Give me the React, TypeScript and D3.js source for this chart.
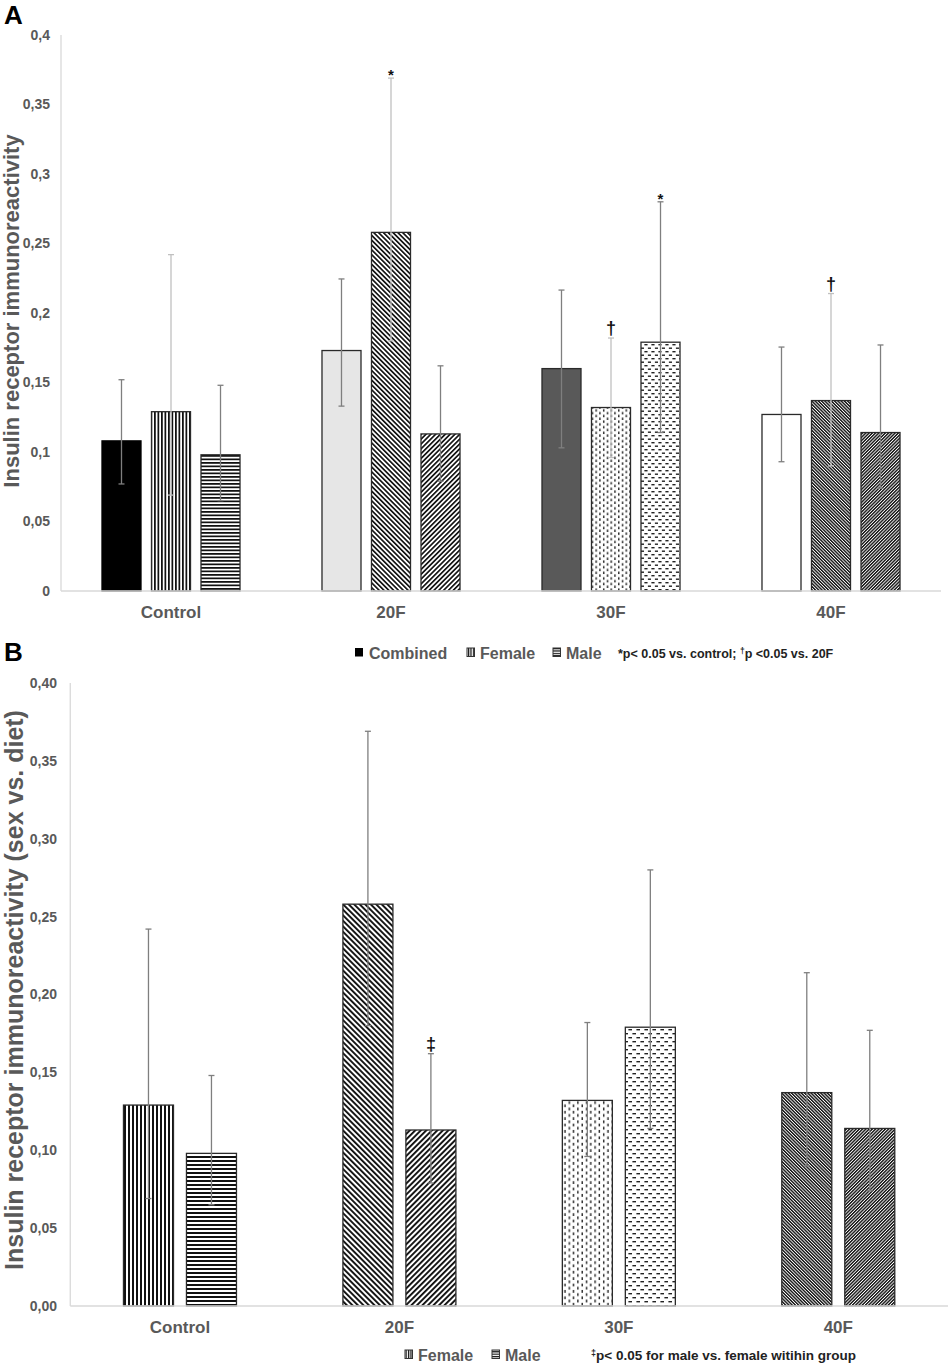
import * as d3 from "d3";

// ---- data ----
const categories = ["Control", "20F", "30F", "40F"];

const combinedMean = [0.108, 0.173, 0.16, 0.127];
const combinedUpper = [0.152, 0.2245, 0.2165, 0.1755];
const combinedLower = [0.077, 0.133, 0.103, 0.093];

const femaleMean = [0.129, 0.258, 0.132, 0.137];
const femaleUpper = [0.242, 0.369, 0.182, 0.214];
const femaleLower = [0.069, 0.18, 0.096, 0.09];

const maleMean = [0.098, 0.113, 0.179, 0.114];
const maleUpper = [0.148, 0.162, 0.28, 0.177];
const maleLower = [0.065, 0.079, 0.114, 0.074];

const yTicks = [0, 0.05, 0.1, 0.15, 0.2, 0.25, 0.3, 0.35, 0.4];
const tickLabelsA = ["0", "0,05", "0,1", "0,15", "0,2", "0,25", "0,3", "0,35", "0,4"];
const tickLabelsB = ["0,00", "0,05", "0,10", "0,15", "0,20", "0,25", "0,30", "0,35", "0,40"];

const marksA = [
  { cat: "20F", series: "Female", sym: "*" },
  { cat: "30F", series: "Female", sym: "†" },
  { cat: "30F", series: "Male", sym: "*" },
  { cat: "40F", series: "Female", sym: "†" },
];
const marksB = [{ cat: "20F", series: "Male", sym: "‡" }];

// ---- styles ----
const combinedFill = ["#000000", "#e6e6e6", "#595959", "#ffffff"];
const femalePattern = ["vert", "diagL", "dotV", "denseL"];
const malePattern = ["horiz", "diagR", "dashH", "denseR"];

const FONT = "'Liberation Sans', Arial, Helvetica, sans-serif";
const TXT = "#595959";

type Stat = { mean: number[]; upper: number[]; lower: number[] };
const stats: Record<string, Stat> = {
  Combined: { mean: combinedMean, upper: combinedUpper, lower: combinedLower },
  Female: { mean: femaleMean, upper: femaleUpper, lower: femaleLower },
  Male: { mean: maleMean, upper: maleUpper, lower: maleLower },
};

const fillFor = (series: string, i: number, sfx: string) => {
  if (series === "Combined") return combinedFill[i];
  const p = series === "Female" ? femalePattern[i] : malePattern[i];
  return `url(#${p}${sfx})`;
};

const errColor = (series: string, panel: string) =>
  panel === "A" && series === "Female" ? "#c0c0c0" : "#7f7f7f";

function Patterns({ sfx, k }: { sfx: string; k: number }) {
  const ink = "#111";
  return (
    <>
      <pattern id={`vert${sfx}`} patternUnits="userSpaceOnUse" width={4 * k} height={10}>
        <rect width={4 * k} height={10} fill="#fff" />
        <rect width={2 * k} height={10} fill={ink} />
      </pattern>
      <pattern id={`horiz${sfx}`} patternUnits="userSpaceOnUse" width={10} height={4 * k}>
        <rect width={10} height={4 * k} fill="#fff" />
        <rect width={10} height={2 * k} fill={ink} />
      </pattern>
      <pattern id={`diagL${sfx}`} patternUnits="userSpaceOnUse" width={3.9 * k} height={10} patternTransform="rotate(-45)">
        <rect width={3.9 * k} height={10} fill="#fff" />
        <rect width={1.9 * k} height={10} fill={ink} />
      </pattern>
      <pattern id={`diagR${sfx}`} patternUnits="userSpaceOnUse" width={3.9 * k} height={10} patternTransform="rotate(45)">
        <rect width={3.9 * k} height={10} fill="#fff" />
        <rect width={1.9 * k} height={10} fill={ink} />
      </pattern>
      <pattern id={`denseL${sfx}`} patternUnits="userSpaceOnUse" width={2.3} height={10} patternTransform="rotate(-45)">
        <rect width={2.3} height={10} fill="#fff" />
        <rect width={1.4} height={10} fill="#111" />
      </pattern>
      <pattern id={`denseR${sfx}`} patternUnits="userSpaceOnUse" width={2.3} height={10} patternTransform="rotate(45)">
        <rect width={2.3} height={10} fill="#fff" />
        <rect width={1.4} height={10} fill="#111" />
      </pattern>
      <pattern id={`dotV${sfx}`} patternUnits="userSpaceOnUse" width={8.6 * k} height={6.4 * k}>
        <rect width={8.6 * k} height={6.4 * k} fill="#fff" />
        <rect x={1} y={0.4} width={1.4} height={2.8 * k} fill="#222" />
        <rect x={1 + 4.3 * k} y={3.6 * k} width={1.4} height={2.8 * k} fill="#222" />
      </pattern>
      <pattern id={`dashH${sfx}`} patternUnits="userSpaceOnUse" width={8 * k} height={8 * k}>
        <rect width={8 * k} height={8 * k} fill="#fff" />
        <rect x={0.4} y={1} width={3.6 * k} height={1.4} fill="#222" />
        <rect x={0.4 + 4 * k} y={1 + 4 * k} width={3.6 * k} height={1.4} fill="#222" />
      </pattern>
    </>
  );
}

type PanelProps = {
  panel: string;
  series: string[];
  top: number;
  baseline: number;
  x0: number;
  x1: number;
  pi: number;
  po: number;
  tickLabels: string[];
  tickRight: number;
  title: string;
  titleSize: number;
  titleX: number;
  titleY: number;
  catY: number;
  marks: { cat: string; series: string; sym: string }[];
};

function Panel(p: PanelProps) {
  const y = d3.scaleLinear().domain([0, 0.4]).range([p.baseline, p.top]);
  const x = d3.scaleBand().domain(categories).range([p.x0, p.x1]).padding(0);
  const xi = d3
    .scaleBand()
    .domain(p.series)
    .range([0, x.bandwidth()])
    .paddingInner(p.pi)
    .paddingOuter(p.po);
  const bw = xi.bandwidth();
  const cap = 3;

  return (
    <g>
      {/* axes */}
      <line x1={p.x0} x2={p.x0} y1={p.top} y2={p.baseline} stroke="#d9d9d9" strokeWidth={1.3} />
      {yTicks.map((t, i) => (
        <text
          key={t}
          x={p.tickRight}
          y={y(t)}
          dy="0.35em"
          textAnchor="end"
          fontFamily={FONT}
          fontWeight="bold"
          fontSize={14}
          fill={TXT}
        >
          {p.tickLabels[i]}
        </text>
      ))}
      <text
        transform={`translate(${p.titleX},${p.titleY}) rotate(-90)`}
        textAnchor="middle"
        fontFamily={FONT}
        fontWeight="bold"
        fontSize={p.titleSize}
        fill={TXT}
      >
        {p.title}
      </text>

      {/* bars */}
      {categories.map((c, i) =>
        p.series.map((s) => {
          const bx = (x(c) ?? 0) + (xi(s) ?? 0);
          const v = stats[s].mean[i];
          return (
            <rect
              key={c + s}
              x={bx}
              y={y(v)}
              width={bw}
              height={p.baseline - y(v)}
              fill={fillFor(s, i, p.panel)}
              stroke={s === "Combined" && i === 0 ? "#000" : "#2a2a2a"}
              strokeWidth={1.3}
            />
          );
        })
      )}

      {/* error bars */}
      {categories.map((c, i) =>
        p.series.map((s) => {
          const cx = (x(c) ?? 0) + (xi(s) ?? 0) + bw / 2;
          const yu = y(stats[s].upper[i]);
          const yl = y(stats[s].lower[i]);
          const col = errColor(s, p.panel);
          return (
            <g key={"e" + c + s} stroke={col} strokeWidth={1.3}>
              <line x1={cx} x2={cx} y1={yu} y2={yl} />
              <line x1={cx - cap} x2={cx + cap} y1={yu} y2={yu} />
              <line x1={cx - cap} x2={cx + cap} y1={yl} y2={yl} />
            </g>
          );
        })
      )}

      <line x1={p.x0} x2={p.x1} y1={p.baseline} y2={p.baseline} stroke="#d9d9d9" strokeWidth={1.3} />

      {/* significance marks */}
      {p.marks.map((m) => {
        const i = categories.indexOf(m.cat);
        const cx = (x(m.cat) ?? 0) + (xi(m.series) ?? 0) + bw / 2;
        const yu = y(stats[m.series].upper[i]);
        const star = m.sym === "*";
        return (
          <text
            key={m.cat + m.series}
            x={cx}
            y={star ? yu + 2 : yu - 4}
            textAnchor="middle"
            fontFamily={FONT}
            fontWeight="bold"
            fontSize={star ? 15 : 18}
            fill="#111"
          >
            {m.sym}
          </text>
        );
      })}

      {/* category labels */}
      {categories.map((c) => (
        <text
          key={"l" + c}
          x={(x(c) ?? 0) + x.bandwidth() / 2}
          y={p.catY}
          textAnchor="middle"
          fontFamily={FONT}
          fontWeight="bold"
          fontSize={17}
          fill={TXT}
        >
          {c}
        </text>
      ))}
    </g>
  );
}

function LegendItem({ x, y, label, fill }: { x: number; y: number; label: string; fill: string }) {
  return (
    <g>
      <rect x={x} y={y - 11} width={7.5} height={8.5} fill={fill} stroke="#333" strokeWidth={1} />
      <text x={x + 13} y={y} fontFamily={FONT} fontWeight="bold" fontSize={16} fill={TXT}>
        {label}
      </text>
    </g>
  );
}

export default function App() {
  return (
    <svg
      width={948}
      height={1365}
      style={{ position: "absolute", left: 0, top: 0, background: "#fff" }}
    >
      <defs>
        <Patterns sfx="A" k={0.875} />
        <Patterns sfx="B" k={1} />
        <Patterns sfx="L" k={0.6} />
      </defs>
      <rect width={948} height={1365} fill="#fff" />

      <text x={4} y={24} fontFamily={FONT} fontWeight="bold" fontSize={26} fill="#000">
        A
      </text>
      <Panel
        panel="A"
        series={["Combined", "Female", "Male"]}
        top={35}
        baseline={591}
        x0={61}
        x1={941}
        pi={0.212}
        po={0.828}
        tickLabels={tickLabelsA}
        tickRight={50}
        title="Insulin receptor immunoreactivity"
        titleSize={22}
        titleX={19}
        titleY={311}
        catY={618}
        marks={marksA}
      />
      <g>
        <rect x={355} y={648} width={8} height={8.5} fill="#000" />
        <text x={369} y={659} fontFamily={FONT} fontWeight="bold" fontSize={16} fill={TXT}>
          Combined
        </text>
        <LegendItem x={467} y={659} label="Female" fill="url(#vertL)" />
        <LegendItem x={553} y={659} label="Male" fill="url(#horizL)" />
        <text x={618} y={658} fontFamily={FONT} fontWeight="bold" fontSize={12.5} fill="#222">
          *p&lt; 0.05 vs. control; <tspan fontSize={8.5} dy={-4}>†</tspan>
          <tspan dy={4}>p &lt;0.05 vs. 20F</tspan>
        </text>
      </g>

      <text x={4} y={661} fontFamily={FONT} fontWeight="bold" fontSize={26} fill="#000">
        B
      </text>
      <Panel
        panel="B"
        series={["Female", "Male"]}
        top={683}
        baseline={1306}
        x0={70.25}
        x1={948}
        pi={0.206}
        po={0.845}
        tickLabels={tickLabelsB}
        tickRight={57}
        title="Insulin receptor immunoreactivity (sex vs. diet)"
        titleSize={25}
        titleX={23}
        titleY={990}
        catY={1333}
        marks={marksB}
      />
      <g>
        <LegendItem x={405} y={1361} label="Female" fill="url(#vertL)" />
        <LegendItem x={492} y={1361} label="Male" fill="url(#horizL)" />
        <text x={591} y={1360} fontFamily={FONT} fontWeight="bold" fontSize={13.5} fill="#222">
          <tspan fontSize={9} dy={-4}>‡</tspan>
          <tspan dy={4}>p&lt; 0.05 for male vs. female witihin group</tspan>
        </text>
      </g>
    </svg>
  );
}
